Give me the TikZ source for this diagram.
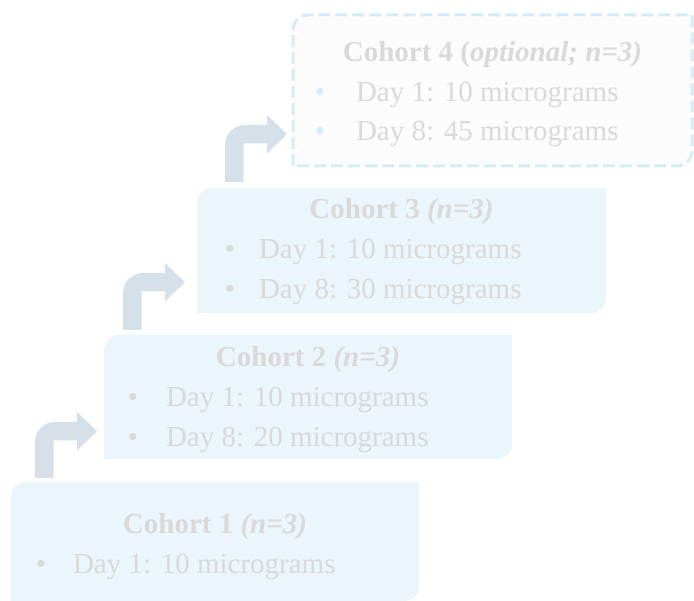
\documentclass[tikz,border=0pt]{standalone}
\usepackage{fontspec}
\setmainfont{Liberation Serif}
\definecolor{boxfill}{HTML}{EAF5FC}
\definecolor{txt}{HTML}{D9D9D9}
\definecolor{arrowc}{HTML}{D6E0E9}
\definecolor{dashc}{HTML}{D5ECF7}
\definecolor{optfill}{HTML}{FCFCFC}
\newcommand\cohortshape[5][]{%
  \path[#1] (#2,#5) -- (#2,#3+15) arc[start angle=180,end angle=270,radius=15]
    -- (#4,#3) -- (#4,#5-15) arc[start angle=0,end angle=90,radius=15] -- cycle;}
\newcommand\bentarr[3]{%
  \fill[arrowc] (#1,#3) -- (#1,#2+20) arc[start angle=180,end angle=270,radius=20]
    -- (#1+42,#2) -- (#1+42,#2-10) -- (#1+62,#2+9.25) -- (#1+42,#2+28.5)
    -- (#1+42,#2+18.5) -- (#1+18.5,#2+18.5) -- (#1+18.5,#3) -- cycle;}
\begin{document}
\begin{tikzpicture}[x=1pt,y=-1pt,
  every node/.style={inner sep=0pt,outer sep=0pt,text=txt,font=\fontsize{29}{36}\selectfont},
  title/.style={anchor=base,font=\fontsize{29}{36}\selectfont\bfseries},
  item/.style={anchor=base west},
  dot/.style={anchor=base},
  optdot/.style={anchor=base,text=dashc}]
\useasboundingbox (0,0) rectangle (694,601);
% boxes
\cohortshape[fill=boxfill]{11}{482}{419}{601}
\cohortshape[fill=boxfill]{104}{335}{512}{459}
\cohortshape[fill=boxfill]{197}{188}{606}{313}
\cohortshape[fill=optfill,draw=dashc,line width=3pt,dash pattern=on 12pt off 5pt]{293}{15}{692}{166}
% arrows
\bentarr{35}{422}{478}
\bentarr{123}{273}{330}
\bentarr{225}{125}{182}
% cohort 1
\node[title] (t1) at (215,533) {Cohort 1 \textit{(n=3)}};
\node[dot] (b11) at (41,573) {•};
\node[item] (i11) at (73,573) {Day 1: 10 micrograms};
% cohort 2
\node[title] (t2) at (308,367) {Cohort 2 \textit{(n=3)}};
\node[dot] (b21) at (133,407) {•};
\node[item] (i21) at (166,407) {Day 1: 10 micrograms};
\node[dot] (b22) at (133,447) {•};
\node[item] (i22) at (166,447) {Day 8: 20 micrograms};
% cohort 3
\node[title] (t3) at (401.5,219) {Cohort 3 \textit{(n=3)}};
\node[dot] (b31) at (230,259) {•};
\node[item] (i31) at (259,259) {Day 1: 10 micrograms};
\node[dot] (b32) at (230,299) {•};
\node[item] (i32) at (259,299) {Day 8: 30 micrograms};
% cohort 4
\node[title] (t4) at (492.5,62) {Cohort 4 (\textit{optional; n=3)}};
\node[optdot] (b41) at (320,102) {•};
\node[item] (i41) at (356,102) {Day 1: 10 micrograms};
\node[optdot] (b42) at (320,141) {•};
\node[item] (i42) at (356,141) {Day 8: 45 micrograms};
\end{tikzpicture}
\end{document}
